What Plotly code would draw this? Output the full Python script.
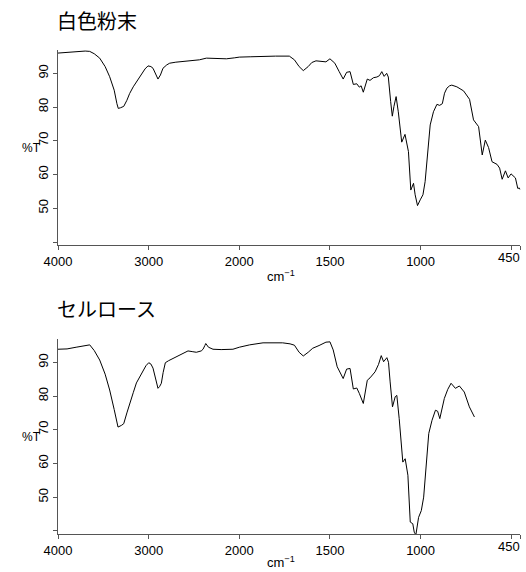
import numpy as np
import plotly.graph_objects as go

# ---------------- data (wavenumber cm-1, %T) ----------------
titles = ["白色粉末", "セルロース"]

wn_powder = [4000, 3900, 3800, 3760, 3700, 3650, 3600, 3540, 3480, 3430, 3380, 3350, 3335, 3310,
             3275, 3240, 3210, 3170, 3135, 3080, 3040, 3007, 2975, 2952, 2920, 2897, 2870, 2842,
             2800, 2768, 2700, 2584, 2500, 2440, 2363, 2300, 2200, 2142, 2050, 2000, 1940, 1869,
             1800, 1724, 1696, 1670, 1647, 1620, 1600, 1577, 1540, 1522, 1500, 1473, 1449, 1427,
             1408, 1389, 1371, 1352, 1338, 1328, 1316, 1294, 1279, 1260, 1241, 1227, 1214, 1201,
             1187, 1178, 1165, 1156, 1147, 1135, 1123, 1104, 1086, 1067, 1054, 1039, 1030, 1017,
             1002, 987, 975, 962, 947, 929, 910, 895, 880, 868, 855, 840, 828, 800, 763, 730,
             708, 680, 671, 660, 643, 625, 606, 578, 564, 550, 532, 517, 501, 477, 464, 455, 450]
t_powder = [96.0, 96.2, 96.5, 96.7, 96.6, 96.5, 95.8, 94.5, 92.0, 89.0, 85.0, 81.0, 79.6, 79.8,
            80.2, 82.0, 84.0, 86.0, 87.5, 89.8, 91.3, 92.2, 92.0, 91.5, 89.5, 88.3, 89.5, 91.5,
            92.5, 93.0, 93.3, 93.6, 93.8, 94.0, 94.5, 94.4, 94.2, 94.3, 94.6, 94.8, 94.9, 95.1,
            95.1, 95.1, 94.0, 92.0, 90.8, 92.0, 93.2, 93.7, 93.4, 93.4, 94.3, 93.0, 90.5, 88.3,
            90.3, 90.5, 86.7, 86.9, 85.9, 86.3, 84.4, 88.3, 87.9, 88.7, 88.9, 89.3, 90.5, 89.1,
            90.0, 88.9, 81.6, 77.3, 80.2, 83.1, 78.6, 69.6, 71.9, 66.8, 55.4, 57.4, 54.0, 50.8,
            52.5, 54.0, 57.9, 66.8, 74.7, 78.6, 80.8, 80.5, 81.0, 84.1, 85.6, 86.3, 86.5, 86.0, 84.8, 82.3,
            76.2, 74.2, 70.7, 65.8, 70.2, 68.0, 63.8, 63.0, 61.9, 58.6, 61.1, 59.0, 60.2, 59.0, 55.9, 56.0, 55.5]

wn_cellulose = [4000, 3900, 3800, 3700, 3650, 3600, 3540, 3480, 3430, 3380, 3338, 3300, 3275, 3240,
                3210, 3170, 3135, 3080, 3030, 2999, 2975, 2952, 2920, 2897, 2880, 2860, 2840, 2816,
                2780, 2732, 2650, 2566, 2520, 2474, 2420, 2400, 2380, 2370, 2340, 2290, 2200, 2070,
                2000, 1943, 1869, 1761, 1720, 1696, 1670, 1647, 1620, 1595, 1560, 1522, 1500, 1482,
                1460, 1445, 1427, 1408, 1389, 1371, 1352, 1338, 1316, 1294, 1279, 1251, 1232, 1217,
                1204, 1186, 1177, 1168, 1155, 1140, 1131, 1118, 1107, 1098, 1085, 1070, 1057, 1043,
                1035, 1026, 1011, 996, 983, 970, 955, 937, 918, 906, 894, 869, 850, 832, 808, 786,
                759, 731, 703]
t_cellulose = [93.9, 94.0, 94.5, 95.0, 95.2, 93.5, 90.7, 86.5, 81.8, 76.0, 70.8, 71.3, 71.8, 75.0,
               77.8, 81.0, 83.9, 86.8, 89.0, 89.9, 89.5, 88.3, 84.5, 82.3, 82.8, 83.8, 87.0, 89.9,
               90.5, 91.2, 92.2, 93.4, 93.2, 93.0, 93.4, 93.9, 95.0, 95.6, 94.5, 93.9, 93.8, 93.9,
               94.5, 95.2, 95.8, 95.8, 95.5, 95.1, 93.0, 91.9, 93.0, 94.2, 95.0, 96.0, 96.1, 93.7,
               88.7, 87.0, 85.2, 88.0, 88.2, 82.1, 82.4, 80.8, 77.8, 84.7, 85.4, 87.2, 89.4, 92.0,
               90.2, 91.4, 90.0, 84.2, 76.8, 79.8, 80.2, 73.3, 64.4, 60.4, 61.4, 56.5, 42.6, 42.1,
               39.6, 38.8, 44.0, 46.0, 50.0, 59.4, 68.9, 72.8, 75.8, 75.5, 73.3, 79.3, 82.0, 83.8, 82.3, 83.0,
               81.2, 76.8, 73.8]

x_tick_vals = [4000, 3000, 2000, 1500, 1000]
x_tick_text = ["4000", "3000", "2000", "1500", "1000"]
x_minor_vals = [500]
x_end_val = 450
y_tick_vals = [50, 60, 70, 80, 90]
y_tick_text = ["50", "60", "70", "80", "90"]
y_minor_vals = [40]


# IR chart scale: 2x expanded below 2000 cm-1
def to_u(w):
    w = np.asarray(w, dtype=float)
    return np.where(w >= 2000, (4000 - w) / 2.0, 1000 + (2000 - w))


W, H = 526, 572
xdom = [58 / W, 520.3 / W]
ydoms = [[1 - 245.4 / H, 1 - 49.7 / H], [1 - 534.2 / H, 1 - 338.8 / H]]
xr = [float(to_u(4000)), float(to_u(450))]
yr = [39, 97]

font_num = "Liberation Sans, Arial, sans-serif"
font_jp = "Noto Sans CJK JP, sans-serif"
axis_col = "#555555"

fig = go.Figure()
series = [(wn_powder, t_powder), (wn_cellulose, t_cellulose)]
for i, (wn, tt) in enumerate(series):
    xa = "x" if i == 0 else "x2"
    ya = "y" if i == 0 else "y2"
    fig.add_trace(go.Scatter(x=to_u(wn), y=tt, mode="lines",
                             line=dict(color="black", width=1),
                             xaxis=xa, yaxis=ya, showlegend=False, hoverinfo="skip"))
    # invisible trace that carries the end-of-axis (450) tick axis
    fig.add_trace(go.Scatter(x=[float(to_u(x_end_val))], y=[None], mode="markers",
                             marker=dict(opacity=0), xaxis="x" + str(3 + i), yaxis=ya,
                             showlegend=False, hoverinfo="skip"))

layout = dict(width=W, height=H, margin=dict(l=0, r=0, t=0, b=0, autoexpand=False),
              paper_bgcolor="white", plot_bgcolor="white", showlegend=False,
              template="none")

for i in range(2):
    xs = "" if i == 0 else "2"
    xk = "xaxis" + xs
    yk = "yaxis" + xs
    layout[xk] = dict(domain=xdom, range=xr, anchor="y" + xs, automargin=False,
                      tickmode="array", tickvals=list(to_u(x_tick_vals)), ticktext=x_tick_text,
                      ticks="outside", ticklen=4, tickwidth=1, tickcolor=axis_col,
                      minor=dict(tickmode="array", tickvals=list(to_u(x_minor_vals)),
                                 ticks="outside", ticklen=4, tickwidth=1, tickcolor=axis_col,
                                 showgrid=False),
                      showline=True, linecolor=axis_col, linewidth=1,
                      showgrid=False, zeroline=False,
                      tickfont=dict(family=font_num, size=13, color="black"))
    layout[yk] = dict(domain=ydoms[i], range=yr, anchor="x" + xs, automargin=False,
                      tickmode="array", tickvals=y_tick_vals, ticktext=y_tick_text, tickangle=-90,
                      ticks="outside", ticklen=4, tickwidth=1, tickcolor=axis_col,
                      minor=dict(tickmode="array", tickvals=y_minor_vals,
                                 ticks="outside", ticklen=4, tickwidth=1, tickcolor=axis_col,
                                 showgrid=False),
                      showline=True, linecolor=axis_col, linewidth=1,
                      showgrid=False, zeroline=False,
                      tickfont=dict(family=font_num, size=13, color="black"))
    # end tick "450" labelled to the left of its tick
    ek = "xaxis" + str(3 + i)
    layout[ek] = dict(overlaying="x" + xs, anchor="y" + xs, range=xr, side="bottom",
                      domain=xdom, automargin=False,
                      tickmode="array", tickvals=[float(to_u(x_end_val))], ticktext=[str(x_end_val)],
                      ticks="outside", ticklen=4, tickwidth=1, tickcolor=axis_col,
                      ticklabelposition="outside left", ticklabeloverflow="allow",
                      showline=False, showgrid=False, zeroline=False,
                      tickfont=dict(family=font_num, size=13, color="black"))

fig.update_layout(**layout)

annots = []
title_y = [20, 308]
pct_y = [148, 437]
cm_y = [276, 562]
for i in range(2):
    annots.append(dict(text=titles[i], x=55 / W, y=1 - title_y[i] / H, xref="paper", yref="paper",
                       xanchor="left", yanchor="middle", showarrow=False,
                       font=dict(family=font_jp, size=20, color="black")))
    annots.append(dict(text="%T", x=31 / W, y=1 - pct_y[i] / H, xref="paper", yref="paper",
                       xanchor="center", yanchor="middle", showarrow=False,
                       font=dict(family=font_num, size=12, color="black")))
    annots.append(dict(text="cm<sup>−1</sup>", x=281 / W, y=1 - cm_y[i] / H, xref="paper", yref="paper",
                       xanchor="center", yanchor="middle", showarrow=False,
                       font=dict(family=font_num, size=13, color="black")))
fig.update_layout(annotations=annots)

fig.write_html("out.html")
